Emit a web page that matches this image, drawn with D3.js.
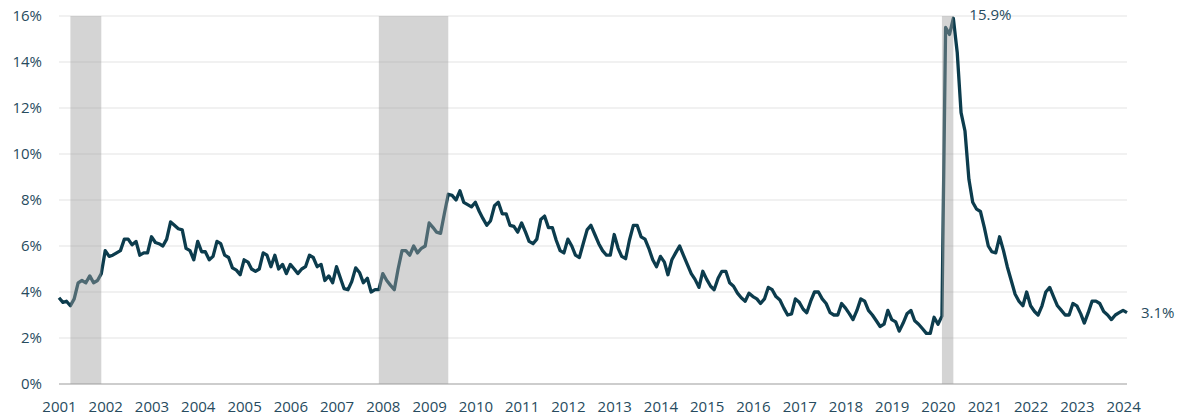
<!DOCTYPE html>
<html>
<head>
<meta charset="utf-8">
<script src="https://cdn.jsdelivr.net/npm/d3@7"></script>
<style>
    body { margin: 0; background: #fff; }
    svg text { font-family: "Open Sans", sans-serif; font-size: 15px; fill: #274b5e; }
</style>
</head>
<body>
<svg id="chart"></svg>
<script>
// monthly values, first point is January 2001
const startYear = 2001;
const rate = [
    3.75, 3.55, 3.6, 3.4, 3.7, 4.4, 4.5, 4.4, 4.7, 4.4, 4.5, 4.8,
    5.8, 5.55, 5.6, 5.7, 5.8, 6.3, 6.3, 6.05, 6.2, 5.6, 5.7, 5.7,
    6.4, 6.15, 6.1, 6.0, 6.3, 7.05, 6.9, 6.75, 6.7, 5.9, 5.8, 5.4,
    6.2, 5.75, 5.75, 5.4, 5.55, 6.2, 6.1, 5.6, 5.5, 5.05, 4.95, 4.75,
    5.4, 5.3, 5.0, 4.9, 5.0, 5.7, 5.6, 5.1, 5.6, 5.0, 5.2, 4.8,
    5.2, 5.0, 4.8, 5.0, 5.1, 5.6, 5.5, 5.1, 5.2, 4.5, 4.7, 4.4,
    5.1, 4.6, 4.15, 4.1, 4.45, 5.05, 4.85, 4.4, 4.6, 4.0, 4.1, 4.1,
    4.8, 4.5, 4.3, 4.1, 5.0, 5.8, 5.8, 5.6, 6.0, 5.7, 5.9, 6.0,
    7.0, 6.8, 6.6, 6.55, 7.4, 8.25, 8.2, 8.0, 8.4, 7.9, 7.8, 7.7,
    7.9, 7.5, 7.2, 6.9, 7.1, 7.75, 7.9, 7.4, 7.4, 6.9, 6.85, 6.6,
    7.0, 6.6, 6.2, 6.1, 6.3, 7.15, 7.3, 6.8, 6.8, 6.25, 5.8, 5.7,
    6.3, 6.0, 5.6, 5.5, 6.1, 6.7, 6.9, 6.5, 6.1, 5.8, 5.6, 5.6,
    6.5, 5.9, 5.55, 5.45, 6.25, 6.9, 6.9, 6.4, 6.3, 5.9, 5.4, 5.1,
    5.55, 5.3, 4.75, 5.4, 5.7, 6.0, 5.6, 5.2, 4.8, 4.55, 4.2, 4.9,
    4.55, 4.25, 4.1, 4.6, 4.9, 4.9, 4.4, 4.25, 3.95, 3.75, 3.6, 3.95,
    3.8, 3.7, 3.5, 3.7, 4.2, 4.1, 3.8, 3.65, 3.3, 3.0, 3.05, 3.7,
    3.55, 3.25, 3.1, 3.6, 4.0, 4.0, 3.7, 3.5, 3.1, 3.0, 3.0, 3.5,
    3.3, 3.05, 2.8, 3.2, 3.7, 3.6, 3.2, 3.0, 2.75, 2.5, 2.6, 3.2,
    2.8, 2.7, 2.3, 2.65, 3.05, 3.2, 2.75, 2.6, 2.4, 2.2, 2.2, 2.9,
    2.6, 2.95, 15.5, 15.2, 15.9, 14.4, 11.8, 11.0, 8.9, 7.9, 7.6, 7.5,
    6.8, 6.0, 5.75, 5.7, 6.4, 5.8, 5.1, 4.5, 3.9, 3.6, 3.4, 4.0,
    3.4, 3.15, 3.0, 3.4, 4.0, 4.2, 3.8, 3.4, 3.2, 3.0, 3.0, 3.5,
    3.4, 3.05, 2.65, 3.1, 3.6, 3.6, 3.5, 3.15, 3.0, 2.8, 3.0, 3.1,
    3.2, 3.1
];
const yearTicks = [2001, 2002, 2003, 2004, 2005, 2006, 2007, 2008, 2009, 2010, 2011, 2012,
    2013, 2014, 2015, 2016, 2017, 2018, 2019, 2020, 2021, 2022, 2023, 2024];
const pctTicks = [0, 2, 4, 6, 8, 10, 12, 14, 16];
// recession shading, [start, end]
const recessions = [
    ["2001-04", "2001-12"],
    ["2007-12", "2009-06"],
    ["2020-02", "2020-05"]
];

const width = 1183,
    height = 418,
    plotLeft = 59,
    plotRight = 1127,
    plotTop = 16,
    plotBottom = 384;

const parseMonth = d3.timeParse("%Y-%m");
const values = rate.map((v, i) => ({ date: new Date(startYear, i, 1), value: v }));

const svg = d3.select("#chart").attr("width", width).attr("height", height);

const xScale = d3
    .scaleTime()
    .domain([values[0].date, values[values.length - 1].date])
    .range([plotLeft, plotRight]);

const yScale = d3.scaleLinear().domain([0, 16]).range([plotBottom, plotTop]);

// gridlines
svg.append("g")
    .selectAll("line")
    .data(pctTicks.filter((t) => t > 0))
    .enter()
    .append("line")
    .attr("x1", plotLeft)
    .attr("x2", plotRight)
    .attr("y1", (t) => yScale(t))
    .attr("y2", (t) => yScale(t))
    .attr("stroke", "#e3e3e3")
    .attr("stroke-width", 1);

// y axis labels
const yAxis = d3
    .axisLeft(yScale)
    .tickValues(pctTicks)
    .tickFormat((t) => t + "%")
    .tickSize(0)
    .tickPadding(0);

svg.append("g")
    .attr("id", "y-axis")
    .attr("transform", `translate(42, 0)`)
    .call(yAxis)
    .call((g) => g.select(".domain").remove())
    .call((g) => g.attr("font-family", null).attr("font-size", null));

// x axis
const xAxis = d3
    .axisBottom(xScale)
    .tickValues(yearTicks.map((y) => new Date(y, 0, 1)))
    .tickFormat(d3.timeFormat("%Y"))
    .tickSize(0)
    .tickPadding(17);

svg.append("g")
    .attr("id", "x-axis")
    .attr("transform", `translate(0, ${plotBottom})`)
    .call(xAxis)
    .call((g) => g.select(".domain").remove())
    .call((g) => g.attr("font-family", null).attr("font-size", null));

svg.append("line")
    .attr("x1", plotLeft)
    .attr("x2", plotRight)
    .attr("y1", yScale(0))
    .attr("y2", yScale(0))
    .attr("stroke", "#bdbdbd")
    .attr("stroke-width", 1.5);

// the series
const line = d3
    .line()
    .x((d) => xScale(d.date))
    .y((d) => yScale(d.value));

svg.append("path")
    .datum(values)
    .attr("d", line)
    .attr("fill", "none")
    .attr("stroke", "#0c3c4d")
    .attr("stroke-width", 3.3)
    .attr("stroke-linejoin", "round");

// recession bands sit over the line
svg.append("g")
    .selectAll("rect")
    .data(recessions)
    .enter()
    .append("rect")
    .attr("x", (r) => xScale(parseMonth(r[0])))
    .attr("width", (r) => xScale(parseMonth(r[1])) - xScale(parseMonth(r[0])))
    .attr("y", yScale(16))
    .attr("height", yScale(0) - yScale(16))
    .attr("fill", "#a0a0a0")
    .attr("fill-opacity", 0.45);

// annotations: peak and latest
const peak = values.reduce((a, b) => (b.value > a.value ? b : a));
const last = values[values.length - 1];

svg.append("text")
    .attr("x", xScale(peak.date) + 16)
    .attr("y", yScale(peak.value))
    .attr("dy", "0.1em")
    .text(peak.value.toFixed(1) + "%");

svg.append("text")
    .attr("x", xScale(last.date) + 14)
    .attr("y", yScale(last.value))
    .attr("dy", "0.35em")
    .text(last.value.toFixed(1) + "%");
</script>
</body>
</html>
